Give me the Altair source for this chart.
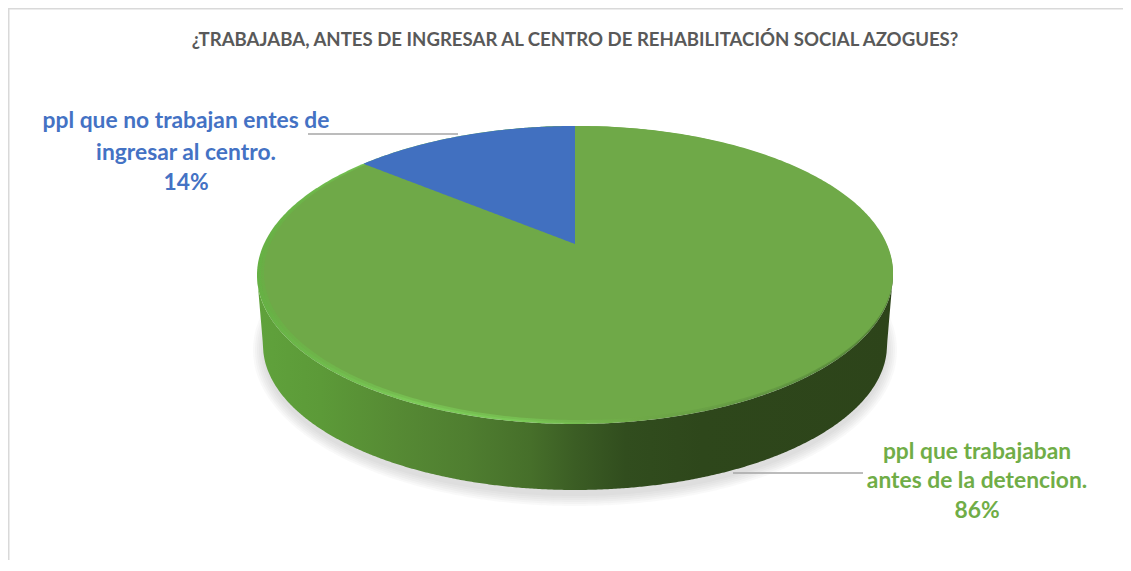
import numpy as np
import pandas as pd
import altair as alt

# ---- chart values ----
title_text = "¿TRABAJABA, ANTES DE INGRESAR AL CENTRO DE REHABILITACIÓN SOCIAL AZOGUES?"
label_no = ["ppl que no trabajan entes de", "ingresar al centro."]
label_yes = ["ppl que trabajaban", "antes de la detencion."]
share_no = [14]
share_yes = [86]

# ---- canvas & pie geometry (page pixels minus 8px margin) ----
W, H = 1115, 552
CX, CY, RX, RY = 567, 267, 318, 149      # top face ellipse
APEX_Y = 236                             # where the pie centre projects
BX, BY, BRY = 312, 337, 145              # bottom rim ellipse
K, A, B = 0.208, 142.5, 311              # perspective of the tilted disc

x_s = alt.Scale(domain=[0, W], range=[0, W], nice=False, zero=False)
y_s = alt.Scale(domain=[H, 0], nice=False, zero=False)


def ellipse(cx, cy, rx, ry, n=260):
    t = np.linspace(0, np.pi, n)
    x = cx - rx * np.cos(t)
    h = ry * np.sin(t)
    return pd.DataFrame({"x": x, "y": cy - h, "y2": cy + h})


def area(df, **mark):
    return alt.Chart(df).mark_area(**mark).encode(
        x=alt.X("x:Q", scale=x_s, axis=None),
        y=alt.Y("y:Q", scale=y_s, axis=None),
        y2="y2:Q",
    )


def grad(stops):
    return alt.Gradient(
        gradient="linear", x1=0, x2=1, y1=0, y2=0,
        stops=[alt.GradientStop(offset=o, color=c) for o, c in stops],
    )


# soft shadow
shadow_layers = [
    area(ellipse(CX, BY + 5, 312 + k, 146 + k), color="#8c8c8c", opacity=0.055)
    for k in range(0, 12, 2)
]

# side wall
t = np.linspace(0, np.pi, 500)
wx = CX - RX * np.cos(t)
wy = CY + RY * np.sin(t)
dx = np.abs(wx - CX)
inside = np.clip(1 - (dx / BX) ** 2, 0, 1)
wy2 = np.where(dx <= BX, BY + BRY * np.sqrt(inside),
               CY + (RX - dx) / (RX - BX) * (BY - CY))
wall = area(pd.DataFrame({"x": wx, "y": wy, "y2": wy2}), color=grad([
    (0.00, "#60a23c"), (0.10, "#5c9a38"), (0.22, "#568a34"), (0.33, "#4f7e30"),
    (0.43, "#466f2a"), (0.50, "#3b5d24"), (0.58, "#314d1e"), (0.70, "#2e471b"),
    (1.00, "#2d441a"),
]))

# top face with bevel
bevel = area(ellipse(CX, CY, RX, RY), color=grad([
    (0.00, "#66b044"), (0.25, "#7ccb58"), (0.42, "#7ac957"), (0.60, "#6fa948"),
    (0.85, "#5d9040"), (1.00, "#4f7c33"),
]))
bevel_mid = area(ellipse(CX + 2, CY - 1, RX - 2, RY - 1), color="#6fa948", opacity=0.35)
face = area(ellipse(CX + 3.5, CY - 2, RX - 3.5, RY - 2), color="#6fa948")

# blue slice, from the values through the perspective of the disc
ang = 2 * np.pi * share_no[0] / (share_no[0] + share_yes[0])
den = 1 - K * (-np.cos(ang))
rim_x = CX - B * np.sin(ang) / den
rim_y = APEX_Y - A * np.cos(ang) / den
bx = np.linspace(rim_x, CX, 120)
by = CY - RY * np.sqrt(1 - ((bx - CX) / RX) ** 2)
by2 = APEX_Y + (rim_y - APEX_Y) * (CX - bx) / (CX - rim_x)
blue = area(pd.DataFrame({"x": bx, "y": by, "y2": by2}), color="#4170c0")


def text(lines, xc, ys, color, size):
    df = pd.DataFrame({"t": lines, "x": [xc] * len(lines), "y": ys})
    return alt.Chart(df).mark_text(
        font="Lato", fontWeight="bold", fontSize=size, color=color,
        align="center", baseline="middle",
    ).encode(
        x=alt.X("x:Q", scale=x_s, axis=None),
        y=alt.Y("y:Q", scale=y_s, axis=None),
        text="t:N",
    )


def leader(x1, x2, y):
    df = pd.DataFrame({"x": [x1], "x2": [x2], "y": [y]})
    return alt.Chart(df).mark_rule(color="#a6a6a6", strokeWidth=1.5).encode(
        x=alt.X("x:Q", scale=x_s, axis=None), x2="x2:Q",
        y=alt.Y("y:Q", scale=y_s, axis=None),
    )


frame_top = alt.Chart(pd.DataFrame({"a": [0]})).mark_rule(color="#d9d9d9", strokeWidth=2).encode(
    x=alt.value(0), x2=alt.value(W), y=alt.value(0.5))
frame_left = alt.Chart(pd.DataFrame({"a": [0]})).mark_rule(color="#d9d9d9", strokeWidth=2).encode(
    x=alt.value(0.5), y=alt.value(0), y2=alt.value(H))

chart = alt.layer(
    frame_top, frame_left,
    *shadow_layers,
    wall, bevel, bevel_mid, face, blue,
    leader(300, 450, 126),
    leader(725, 855, 465),
    text([title_text], 567, [32], "#595959", 18.6),
    text(label_no + [f"{share_no[0]}%"], 178, [113, 145, 175], "#4472c4", 22.8),
    text(label_yes + [f"{share_yes[0]}%"], 969, [444, 473, 503], "#70ad47", 22.8),
).properties(width=W, height=H, padding=0, background="white",
             autosize=alt.AutoSizeParams(type="none")
).configure_view(stroke=None)

chart.save("out.html", embed_options={"renderer": "svg", "actions": False})
